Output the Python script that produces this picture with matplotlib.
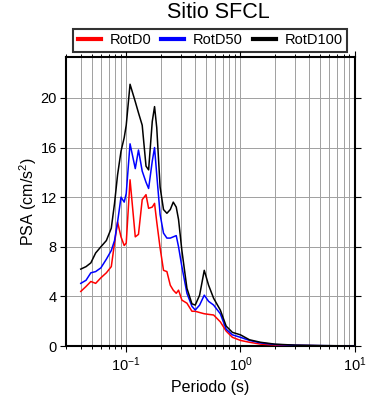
import matplotlib
matplotlib.use("Agg")
import matplotlib.pyplot as plt
from matplotlib.lines import Line2D
from matplotlib.ticker import LogLocator, MultipleLocator, NullFormatter

plt.rcParams['font.family'] = ['Liberation Sans', 'DejaVu Sans']
plt.rcParams['mathtext.fontset'] = 'custom'
plt.rcParams['mathtext.rm'] = 'Liberation Sans'
plt.rcParams['mathtext.it'] = 'Liberation Sans:italic'
plt.rcParams['mathtext.default'] = 'regular'

# periods (s)
periods = [0.040, 0.0445, 0.049, 0.054, 0.060, 0.067, 0.074, 0.079, 0.084, 0.090,
           0.096, 0.100, 0.108, 0.120, 0.128, 0.138, 0.149, 0.157, 0.169, 0.177,
           0.185, 0.198, 0.212, 0.227, 0.243, 0.258, 0.274, 0.287, 0.307, 0.340,
           0.376, 0.402, 0.439, 0.482, 0.526, 0.582, 0.666, 0.75, 0.85, 1.0,
           1.2, 1.5, 2.0, 3.0, 5.0, 7.0, 10.0]

rotd0 = [4.4, 4.8, 5.2, 5.05, 5.5, 5.9, 6.4, 8.3, 10.0, 8.8,
         8.1, 8.3, 13.4, 8.8, 9.0, 11.8, 12.2, 11.1, 11.2, 11.5,
         10.0, 7.9, 6.1, 6.0, 4.9, 4.5, 4.25, 4.5, 3.7, 3.45,
         2.8, 2.8, 2.7, 2.6, 2.55, 2.5, 1.95, 1.2, 0.7, 0.45,
         0.3, 0.15, 0.08, 0.04, 0.02, 0.01, 0.005]

rotd50 = [5.05, 5.3, 5.9, 6.0, 6.3, 7.0, 7.7, 8.5, 10.0, 12.0,
          11.6, 12.3, 16.3, 14.3, 15.8, 14.1, 13.2, 12.7, 14.9, 16.0,
          13.8, 10.6, 9.1, 8.7, 8.7, 8.8, 8.9, 8.0, 6.4, 4.25,
          3.2, 2.9, 3.3, 4.1, 3.6, 3.3, 2.6, 1.35, 0.9, 0.7,
          0.45, 0.25, 0.12, 0.06, 0.03, 0.015, 0.008]

rotd100 = [6.2, 6.4, 6.7, 7.5, 8.0, 8.5, 9.5, 11.5, 13.8, 15.7,
           16.8, 17.8, 21.1, 19.7, 18.8, 17.8, 14.5, 14.2, 18.1, 19.3,
           17.6, 12.8, 11.0, 10.7, 11.0, 11.6, 11.2, 10.2, 7.7, 4.65,
           3.4, 3.3, 4.1, 6.1, 4.9, 3.85, 2.9, 1.6, 1.1, 0.9,
           0.5, 0.3, 0.15, 0.07, 0.035, 0.02, 0.01]

series = [("RotD0", rotd0, "red"), ("RotD50", rotd50, "blue"), ("RotD100", rotd100, "black")]

fig = plt.figure(figsize=(3.9, 4.0), dpi=100)
ax = fig.add_axes([0.1705, 0.135, 0.739, 0.7225])

for name, vals, col in series:
    ax.plot(periods, vals, color=col, lw=1.1, zorder=3)

ax.set_xscale('log')
ax.set_xlim(0.03, 10)
ax.set_ylim(0, 23.3)
ax.xaxis.set_major_locator(LogLocator(base=10, numticks=10))
ax.xaxis.set_minor_locator(LogLocator(base=10, subs=range(2, 10), numticks=20))
ax.xaxis.set_minor_formatter(NullFormatter())
ax.yaxis.set_major_locator(MultipleLocator(4))

ax.grid(True, which='both', axis='x', color='#a0a0a0', lw=0.7, zorder=1)
ax.grid(True, which='major', axis='y', color='#a0a0a0', lw=0.7, zorder=1)

for s in ax.spines.values():
    s.set_linewidth(1.5)
ax.tick_params(which='major', direction='out', length=4, width=0.8, labelsize=10.5,
               top=True, right=True, pad=3)
ax.tick_params(which='minor', direction='out', length=2.5, width=0.7, top=True, right=True)

ax.set_xlabel("Periodo (s)", fontsize=11.5, labelpad=4)
ax.set_ylabel("PSA (cm/s$^2$)", fontsize=11.5, labelpad=1)
fig.text(0.56, 0.97, "Sitio SFCL", ha='center', va='center', fontsize=15.5)

handles = [Line2D([0], [0], color=c, lw=3) for _, _, c in series]
labels = [n for n, _, _ in series]
leg = fig.legend(handles, labels, loc='lower left', ncol=3, mode='expand',
                 bbox_to_anchor=(73.3 / 390, 1 - 51.7 / 400, 274 / 390, 21.7 / 400),
                 fontsize=10.5, frameon=True, fancybox=False, handlelength=1.6,
                 handletextpad=0.6, borderpad=0.3, borderaxespad=0, columnspacing=1.0)
leg.get_frame().set_edgecolor('black')
leg.get_frame().set_linewidth(1.5)

fig.savefig("out.png", dpi=100)
